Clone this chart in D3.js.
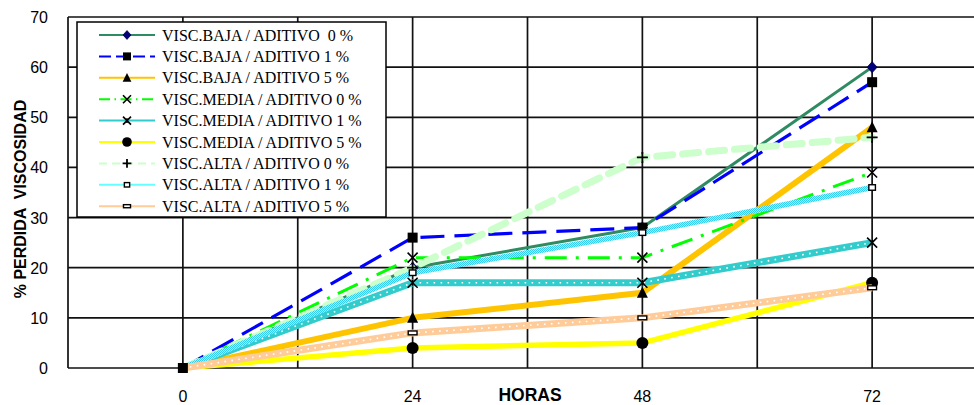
<!DOCTYPE html>
<html>
<head>
<meta charset="utf-8">
<script src="https://cdn.jsdelivr.net/npm/d3@7"></script>
<style>
    body { margin: 0; background: #fff; }
    svg { display: block; }
    text { white-space: pre; }
</style>
</head>
<body>
<svg id="chart"></svg>
<script>
// --- DATA ---
const hours = [0, 24, 48, 72];
const xTicks = [0, 24, 48, 72];
const yTicks = [0, 10, 20, 30, 40, 50, 60, 70];

const seriesNames = [
    'VISC.BAJA / ADITIVO  0 %',
    'VISC.BAJA / ADITIVO 1 %',
    'VISC.BAJA / ADITIVO 5 %',
    'VISC.MEDIA / ADITIVO 0 %',
    'VISC.MEDIA / ADITIVO 1 %',
    'VISC.MEDIA / ADITIVO 5 %',
    'VISC.ALTA / ADITIVO 0 %',
    'VISC.ALTA / ADITIVO 1 %',
    'VISC.ALTA / ADITIVO 5 %'
];

const bajaAd0 = [0, 20, 28, 60];
const bajaAd1 = [0, 26, 28, 57];
const bajaAd5 = [0, 10, 15, 48];
const mediaAd0 = [0, 22, 22, 39];
const mediaAd1 = [0, 17, 17, 25];
const mediaAd5 = [0, 4, 5, 17];
const altaAd0 = [0, 20, 42, 46];
const altaAd1 = [0, 19, 27, 36];
const altaAd5 = [0, 7, 10, 16];

const seriesValues = [bajaAd0, bajaAd1, bajaAd5, mediaAd0, mediaAd1, mediaAd5, altaAd0, altaAd1, altaAd5];

// --- STYLES ---
const styles = [
    { color: '#2e8b62', width: 3, dash: null, marker: 'diamond' },
    { color: '#0000ff', width: 3.2, dash: '24,10', marker: 'square' },
    { color: '#ffc400', width: 6, dash: null, marker: 'triangle' },
    { color: '#00ff00', width: 3, dash: '22,9,3,9', marker: 'x' },
    { color: '#33cccc', width: 7, dash: null, marker: 'star', dots: true },
    { color: '#ffff00', width: 5.5, dash: null, marker: 'circle' },
    { color: '#ccffcc', width: 7, dash: '16,10', marker: 'plus', cap: 'round' },
    { color: 'url(#cyanTex)', legendColor: '#66ffff', width: 5.5, dash: null, marker: 'smallsq' },
    { color: '#ffcc99', width: 7, dash: null, marker: 'dash', dots: true }
];

// --- SETUP ---
const width = 974;
const height = 405;
const svg = d3.select('#chart')
    .attr('width', width)
    .attr('height', height);

const defs = svg.append('defs');
const pat = defs.append('pattern')
    .attr('id', 'cyanTex')
    .attr('patternUnits', 'userSpaceOnUse')
    .attr('width', 2)
    .attr('height', 2);
pat.append('rect').attr('width', 2).attr('height', 2).attr('fill', '#80ffff');
pat.append('rect').attr('width', 1).attr('height', 1).attr('fill', '#33ccee');
pat.append('rect').attr('x', 1).attr('y', 1).attr('width', 1).attr('height', 1).attr('fill', '#33ccee');

const x = d3.scaleLinear().domain([-12, 84]).range([68, 987]);
const y = d3.scaleLinear().domain([0, 70]).range([368, 17]);

const font = '"Liberation Sans", Arial, sans-serif';

// --- GRID ---
const grid = svg.append('g');
grid.selectAll('line.v')
    .data(d3.range(-12, 85, 12))
    .enter().append('line')
    .attr('x1', d => x(d)).attr('x2', d => x(d))
    .attr('y1', y(70)).attr('y2', y(0))
    .attr('stroke', '#111').attr('stroke-width', 1.7);
grid.selectAll('line.h')
    .data(yTicks)
    .enter().append('line')
    .attr('x1', x(-12)).attr('x2', x(84))
    .attr('y1', d => y(d)).attr('y2', d => y(d))
    .attr('stroke', '#111').attr('stroke-width', 1.7);

// --- AXES TEXT ---
svg.append('g').selectAll('text')
    .data(yTicks)
    .enter().append('text')
    .attr('x', 48)
    .attr('y', d => y(d) + 6)
    .attr('text-anchor', 'end')
    .attr('font-family', font)
    .attr('font-size', 16)
    .text(d => d);

svg.append('g').selectAll('text')
    .data(xTicks)
    .enter().append('text')
    .attr('x', d => x(d))
    .attr('y', 402)
    .attr('text-anchor', 'middle')
    .attr('font-family', font)
    .attr('font-size', 16)
    .text(d => d);

svg.append('text')
    .attr('x', 530).attr('y', 401)
    .attr('text-anchor', 'middle')
    .attr('font-family', font)
    .attr('font-size', 17.5)
    .attr('font-weight', 'bold')
    .text('HORAS');

svg.append('text')
    .attr('transform', 'translate(26,199) rotate(-90)')
    .attr('text-anchor', 'middle')
    .attr('font-family', font)
    .attr('font-size', 16)
    .attr('font-weight', 'bold')
    .text('% PERDIDA  VISCOSIDAD');

// --- MARKERS ---
function drawMarker(g, type, cx, cy, s) {
    const h = s / 2;
    switch (type) {
        case 'diamond':
            g.append('path')
                .attr('d', `M${cx},${cy - h * 1.1}L${cx + h},${cy}L${cx},${cy + h * 1.1}L${cx - h},${cy}Z`)
                .attr('fill', '#000080').attr('stroke', '#000040').attr('stroke-width', 0.8);
            break;
        case 'square':
            g.append('rect')
                .attr('x', cx - h).attr('y', cy - h).attr('width', s).attr('height', s)
                .attr('fill', '#000');
            break;
        case 'triangle':
            g.append('path')
                .attr('d', `M${cx},${cy - h * 1.1}L${cx + h},${cy + h * 0.9}L${cx - h},${cy + h * 0.9}Z`)
                .attr('fill', '#000');
            break;
        case 'x':
        case 'star':
            g.append('path')
                .attr('d', `M${cx - h},${cy - h}L${cx + h},${cy + h}M${cx + h},${cy - h}L${cx - h},${cy + h}`)
                .attr('stroke', '#000').attr('stroke-width', 1.6).attr('fill', 'none');
            if (type === 'star') {
                g.append('path')
                    .attr('d', `M${cx},${cy - h * 0.6}L${cx},${cy + h * 0.6}`)
                    .attr('stroke', '#000').attr('stroke-width', 1.6);
            }
            break;
        case 'circle':
            g.append('circle')
                .attr('cx', cx).attr('cy', cy).attr('r', h)
                .attr('fill', '#000');
            break;
        case 'plus':
            g.append('path')
                .attr('d', `M${cx - h},${cy}L${cx + h},${cy}M${cx},${cy - h}L${cx},${cy + h}`)
                .attr('stroke', '#000').attr('stroke-width', 1.8).attr('fill', 'none');
            break;
        case 'smallsq':
            g.append('rect')
                .attr('x', cx - h * 0.6).attr('y', cy - h * 0.5).attr('width', s * 0.6).attr('height', s * 0.5)
                .attr('fill', '#fff').attr('stroke', '#000').attr('stroke-width', 1.4);
            break;
        case 'dash':
            g.append('rect')
                .attr('x', cx - h * 0.8).attr('y', cy - h * 0.35).attr('width', s * 0.8).attr('height', s * 0.35)
                .attr('fill', '#fff').attr('stroke', '#000').attr('stroke-width', 1.4);
            break;
    }
}

// --- SERIES ---
const line = d3.line()
    .x(d => x(d.h))
    .y(d => y(d.v));

const markerSize = { diamond: 10, square: 10, triangle: 11, x: 10, star: 10, circle: 12, plus: 11, smallsq: 11, dash: 11 };

seriesValues.forEach((vals, i) => {
    const st = styles[i];
    const pts = hours.map((h, j) => ({ h: h, v: vals[j] }));
    const g = svg.append('g');
    g.append('path')
        .datum(pts)
        .attr('d', line)
        .attr('fill', 'none')
        .attr('stroke', st.color)
        .attr('stroke-width', st.width)
        .attr('stroke-dasharray', st.dash)
        .attr('stroke-linecap', st.cap || 'butt')
        .attr('stroke-linejoin', 'round');
    if (st.dots) {
        g.append('path')
            .datum(pts)
            .attr('d', line)
            .attr('fill', 'none')
            .attr('stroke', '#fff')
            .attr('stroke-width', 1.6)
            .attr('stroke-dasharray', '1.6,5.4');
    }
    pts.filter(d => d.h > 0).forEach(d => {
        drawMarker(g, st.marker, x(d.h), y(d.v), markerSize[st.marker]);
    });
});

// at hour 0 only the square of the second series shows, on top of everything
drawMarker(svg.append('g'), styles[1].marker, x(hours[0]), y(bajaAd1[0]), markerSize.square);

// --- LEGEND ---
const legend = svg.append('g');
legend.append('rect')
    .attr('x', 77).attr('y', 22)
    .attr('width', 309).attr('height', 195)
    .attr('fill', '#fff')
    .attr('stroke', '#000')
    .attr('stroke-width', 1.5);

seriesNames.forEach((name, i) => {
    const st = styles[i];
    const cy = 35 + i * 21.4;
    legend.append('line')
        .attr('x1', 99).attr('x2', 155)
        .attr('y1', cy).attr('y2', cy)
        .attr('stroke', st.legendColor || st.color)
        .attr('stroke-width', 2)
        .attr('stroke-dasharray', st.dash ? st.dash.split(',').map(v => v * 0.5).join(',') : null);
    drawMarker(legend, st.marker, 127, cy, markerSize[st.marker] * 0.8);
    legend.append('text')
        .attr('x', 162)
        .attr('y', cy + 5.5)
        .attr('font-family', '"Liberation Serif", "Times New Roman", serif')
        .attr('font-size', 16)
        .text(name);
});
</script>
</body>
</html>
